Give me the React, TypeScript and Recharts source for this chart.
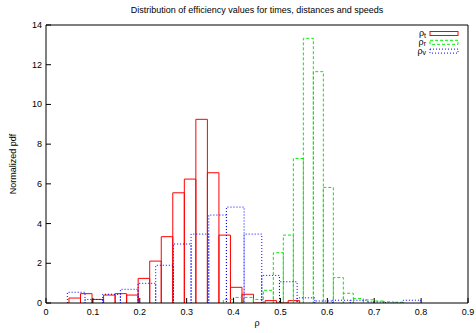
import { LineChart, Line, XAxis, YAxis } from 'recharts'

// histogram bins: first edge, bin width, heights
const timeStart = 0.049
const timeWidth = 0.0246
const timeValues = [0.25, 0.47, 0.18, 0.4, 0.47, 0.4, 1.24, 2.11, 3.34, 5.55, 6.24, 9.25, 6.56, 3.42, 0.79, 0.44, 0, 0.12, 0, 0.12]

const distStart = 0.3782
const distWidth = 0.02133
const distValues = [0.18, 0.28, 0.28, 0.18, 0.64, 2.53, 3.42, 7.28, 13.33, 11.65, 5.82, 1.28, 0.49, 0.22, 0.16, 0.1, 0.06, 0.04]

const speedStart = 0.0455
const speedWidth = 0.0377
const speedValues = [0.54, 0.18, 0.44, 0.69, 0.99, 1.9, 2.97, 3.47, 4.43, 4.83, 3.47, 1.39, 1.07, 0.26, 0.1, 0.14, 0.14, 0.05, 0, 0.14]

const xTicks = [0, 0.1, 0.2, 0.3, 0.4, 0.5, 0.6, 0.7, 0.8, 0.9]
const yTicks = [0, 2, 4, 6, 8, 10, 12, 14]

const FONT = '"Liberation Sans", Arial, sans-serif'
const TICK = 5

// each bin becomes a closed box: up, across, down
function boxes(start: number, width: number, values: number[]) {
  return values.flatMap((h, i) => {
    const x0 = start + i * width
    const x1 = x0 + width
    return [
      { x: x0, y: 0 },
      { x: x0, y: h },
      { x: x1, y: h },
      { x: x1, y: 0 },
    ]
  })
}

const series = [
  { name: 't', color: '#ff0000', dash: undefined, data: boxes(timeStart, timeWidth, timeValues) },
  { name: 'r', color: '#00ee00', dash: '3 2', data: boxes(distStart, distWidth, distValues) },
  { name: 'v', color: '#0000ff', dash: '1 2', data: boxes(speedStart, speedWidth, speedValues) },
]

const BottomTick = (props: any) => {
  const { x, y, payload } = props
  return (
    <g>
      <line x1={x} x2={x} y1={y} y2={y - TICK} stroke="#000" />
      <text x={x} y={y + 12} textAnchor="middle" fontSize={9} fontFamily={FONT} fill="#000">
        {payload.value}
      </text>
    </g>
  )
}

const TopTick = (props: any) => {
  const { x, y } = props
  return <line x1={x} x2={x} y1={y} y2={y + TICK} stroke="#000" />
}

const LeftTick = (props: any) => {
  const { x, y, payload } = props
  return (
    <g>
      <line x1={x} x2={x + TICK} y1={y} y2={y} stroke="#000" />
      <text x={x - 4} y={y + 3} textAnchor="end" fontSize={9} fontFamily={FONT} fill="#000">
        {payload.value}
      </text>
    </g>
  )
}

const RightTick = (props: any) => {
  const { x, y } = props
  return <line x1={x} x2={x - TICK} y1={y} y2={y} stroke="#000" />
}

export default function App() {
  return (
    <div style={{ position: 'absolute', left: 0, top: 0, width: 476, height: 333, background: '#fff', fontFamily: FONT }}>
      <LineChart width={476} height={333} margin={{ top: 24, right: 7, bottom: 10, left: 16 }}>
        <XAxis
          dataKey="x"
          type="number"
          domain={[0, 0.9]}
          ticks={xTicks}
          interval={0}
          height={20}
          tickSize={0}
          tickMargin={0}
          tickLine={false}
          tick={<BottomTick />}
          axisLine={{ stroke: '#000' }}
          allowDataOverflow
        />
        <XAxis
          xAxisId="top"
          orientation="top"
          type="number"
          domain={[0, 0.9]}
          ticks={xTicks}
          interval={0}
          height={1}
          tickSize={0}
          tickMargin={0}
          tickLine={false}
          tick={<TopTick />}
          axisLine={{ stroke: '#000' }}
        />
        <YAxis
          type="number"
          domain={[0, 14]}
          ticks={yTicks}
          interval={0}
          width={30}
          tickSize={0}
          tickMargin={0}
          tickLine={false}
          tick={<LeftTick />}
          axisLine={{ stroke: '#000' }}
          allowDataOverflow
        />
        <YAxis
          yAxisId="right"
          orientation="right"
          type="number"
          domain={[0, 14]}
          ticks={yTicks}
          interval={0}
          width={1}
          tickSize={0}
          tickMargin={0}
          tickLine={false}
          tick={<RightTick />}
          axisLine={{ stroke: '#000' }}
        />
        {series.map((s) => (
          <Line
            key={s.name}
            data={s.data}
            dataKey="y"
            type="linear"
            stroke={s.color}
            strokeWidth={1}
            strokeDasharray={s.dash}
            dot={false}
            activeDot={false}
            isAnimationActive={false}
          />
        ))}
      </LineChart>

      {/* title and axis labels */}
      <div style={{ position: 'absolute', left: 46, width: 422, top: 5, textAlign: 'center', fontSize: 9, color: '#000' }}>
        Distribution of efficiency values for times, distances and speeds
      </div>
      <div style={{ position: 'absolute', left: 46, width: 422, top: 318, textAlign: 'center', fontSize: 9, color: '#000' }}>
        ρ
      </div>
      <div
        style={{
          position: 'absolute',
          left: 13,
          top: 164,
          fontSize: 9,
          color: '#000',
          whiteSpace: 'nowrap',
          transform: 'translate(-50%, -50%) rotate(-90deg)',
        }}
      >
        Normalized pdf
      </div>

      {/* legend */}
      <svg style={{ position: 'absolute', left: 0, top: 0 }} width={476} height={70}>
        {series.map((s, i) => {
          const top = 31.5 + i * 8.8
          return (
            <g key={s.name}>
              <text x={426} y={top + 4.5} textAnchor="end" fontSize={9} fontFamily={FONT} fill="#000">
                ρ<tspan fontSize={7} dy={1.5}>{s.name}</tspan>
              </text>
              <rect x={430} y={top} width={28} height={4} fill="none" stroke={s.color} strokeDasharray={s.dash} />
            </g>
          )
        })}
      </svg>
    </div>
  )
}
